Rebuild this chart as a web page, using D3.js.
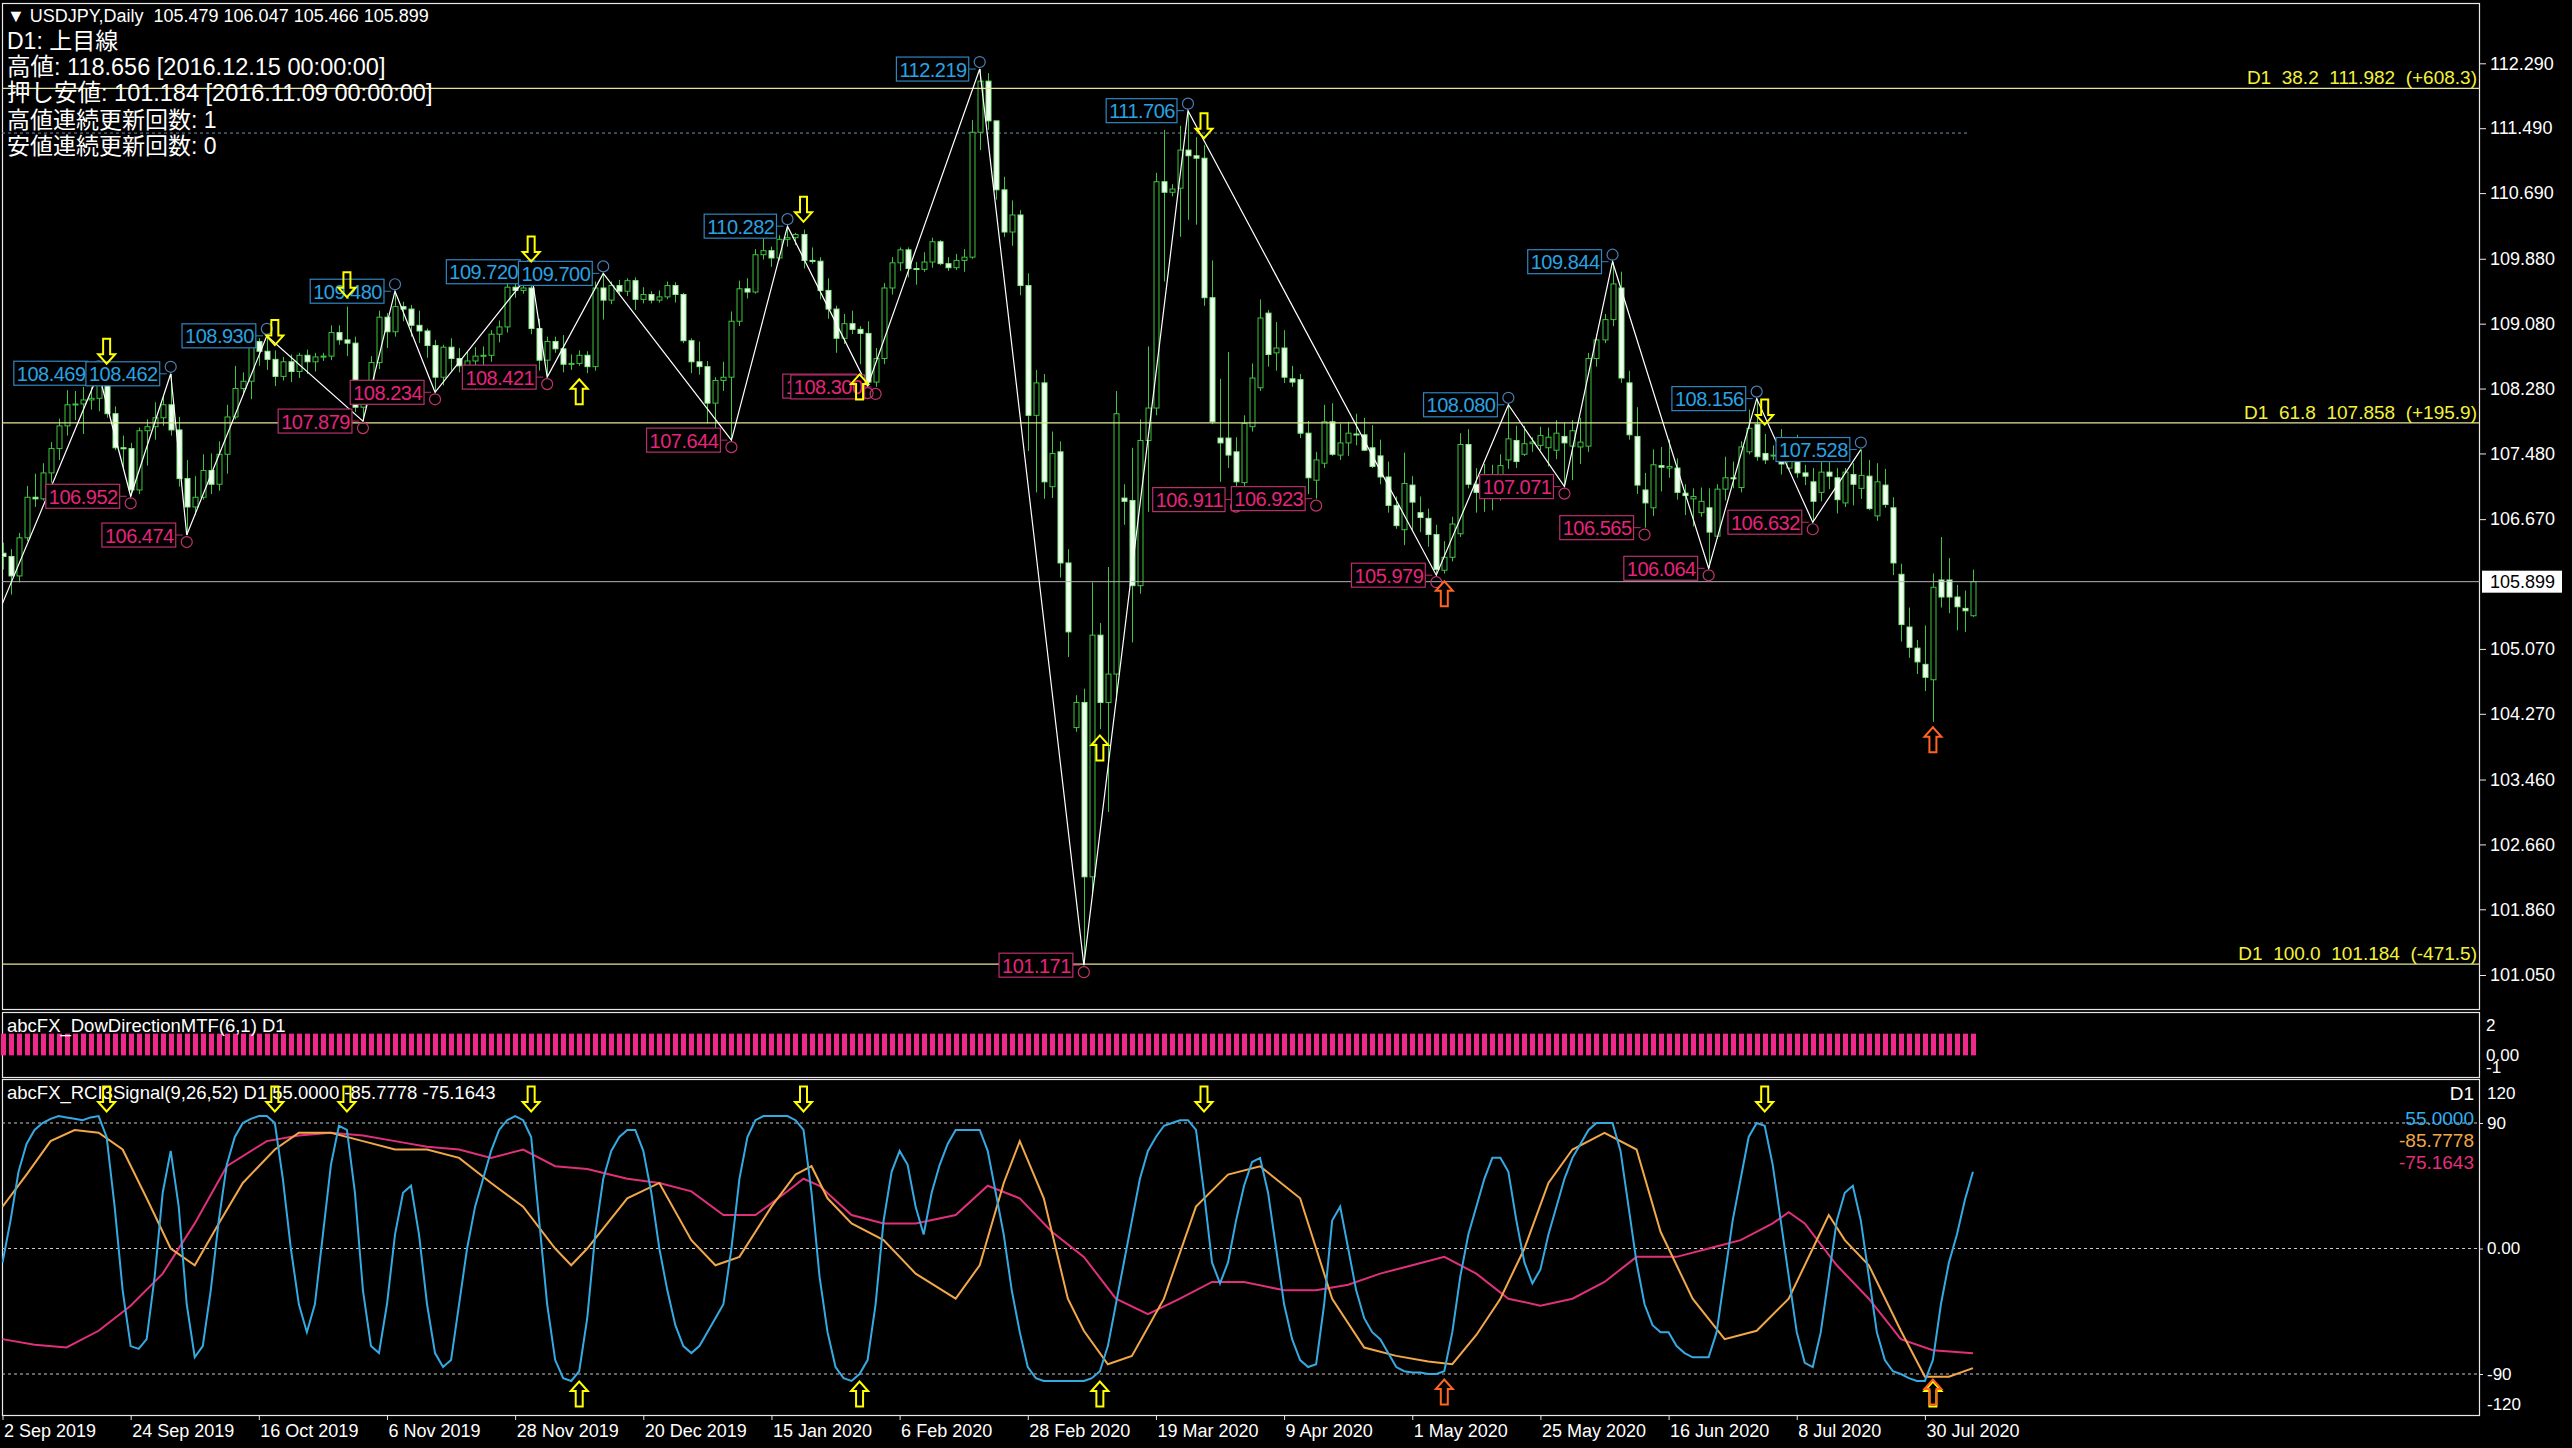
<!DOCTYPE html>
<html>
<head>
<meta charset="utf-8">
<script src="https://cdn.jsdelivr.net/npm/d3@7"></script>
<style>
  body { margin: 0; background: #000; }
  svg { display: block; }
</style>
</head>
<body>
<svg id="chart" width="2572" height="1448"></svg>
<script>
// ---- data ----
const open = [
  106.25,106.21,105.97,106.44,106.94,106.92,107.24,107.54,107.82,108.08,
  108.09,108.14,108.16,108.44,107.97,107.55,107.54,107.03,107.76,107.81,
  107.92,108.08,107.77,107.17,106.82,106.94,107.27,107.10,107.47,107.93,
  108.28,108.37,108.86,108.74,108.64,108.43,108.61,108.49,108.69,108.61,
  108.67,108.68,108.97,108.88,108.84,108.05,108.21,108.60,109.16,108.98,
  109.29,109.26,109.06,108.99,108.81,108.42,108.79,108.65,108.56,108.62,
  108.68,108.69,108.95,109.04,109.53,109.49,109.52,109.02,108.63,108.86,
  108.77,108.58,108.59,108.69,108.55,109.52,109.37,109.55,109.48,109.61,
  109.38,109.44,109.37,109.41,109.55,109.44,108.87,108.61,108.55,108.10,
  108.38,108.42,109.11,109.51,109.47,109.93,109.98,109.89,110.12,110.14,
  110.18,109.86,109.85,109.49,109.26,108.90,109.08,109.01,108.96,108.36,
  108.65,109.52,109.83,109.99,109.76,109.75,109.84,110.09,109.82,109.77,
  109.86,109.90,111.44,112.07,111.58,110.73,110.21,110.42,109.55,107.95,
  108.35,107.07,107.50,106.13,104.10,104.41,102.26,105.24,104.41,104.76,
  106.93,106.90,105.85,107.64,108.04,110.83,110.70,110.75,111.22,111.15,
  111.12,109.40,107.67,107.67,107.50,107.12,107.81,108.29,109.21,108.72,
  108.78,108.40,108.39,107.73,107.15,107.36,107.87,107.46,107.61,107.72,
  107.71,107.55,107.45,107.19,106.84,106.54,107.09,106.75,106.68,106.48,
  106.04,106.20,106.49,107.59,107.10,107.00,107.18,107.07,107.40,107.64,
  107.47,107.60,107.58,107.55,107.52,107.69,107.57,107.56,107.57,108.65,
  108.88,109.13,109.52,108.35,107.69,107.03,106.81,107.33,107.30,107.30,
  106.99,106.92,106.75,106.81,106.46,107.04,107.18,107.06,107.50,107.84,
  107.48,107.45,107.45,107.30,107.49,107.24,107.13,107.00,107.25,107.18,
  106.87,107.22,107.05,107.20,106.71,107.09,106.81,105.99,105.34,105.08,
  104.88,104.69,105.92,105.92,105.71,105.57,105.479
];
const high = [
  106.38,106.30,106.50,107.08,107.23,107.36,107.62,107.91,108.26,108.25,
  108.30,108.30,108.469,108.46,108.06,107.70,107.61,107.80,107.90,108.11,
  108.18,108.462,107.93,107.40,107.20,107.47,107.48,107.63,108.08,108.56,
  108.48,108.89,108.90,108.930,108.75,108.67,108.70,108.72,108.76,108.72,
  108.72,109.06,109.06,109.29,108.92,108.30,108.68,109.24,109.21,109.480,
  109.35,109.31,109.24,109.02,108.88,108.82,108.90,108.78,108.73,108.79,
  108.80,109.00,109.12,109.61,109.60,109.68,109.720,109.14,108.92,108.92,
  108.94,108.70,108.75,108.74,109.60,109.700,109.60,109.62,109.64,109.65,
  109.53,109.48,109.49,109.60,109.59,109.46,108.90,108.86,108.62,108.42,
  108.61,109.23,109.61,109.64,110.00,110.21,110.03,110.17,110.282,110.20,
  110.24,110.02,109.90,109.64,109.30,109.20,109.24,109.05,109.11,108.78,
  109.58,109.90,110.02,110.02,109.84,109.96,110.14,110.11,109.90,109.94,
  110.00,111.59,112.219,112.17,111.58,110.89,110.60,110.48,109.70,108.51,
  108.46,107.75,107.63,106.30,104.50,104.58,105.89,105.39,106.08,108.25,
  107.10,107.55,107.90,108.80,110.94,111.47,110.80,111.52,111.706,111.38,
  111.28,109.86,108.40,108.73,107.68,107.95,108.59,109.38,109.25,109.10,
  109.00,108.56,108.46,107.88,107.50,108.08,108.10,107.85,107.87,107.97,
  107.92,107.83,107.65,107.38,106.95,107.49,107.20,106.95,106.80,106.60,
  106.40,106.70,107.73,107.78,107.30,107.35,107.34,107.47,108.080,107.82,
  107.82,107.68,107.81,107.80,107.89,107.86,107.89,107.92,108.72,108.95,
  109.20,109.844,109.72,108.50,108.05,107.24,107.53,107.56,107.65,107.42,
  107.10,107.05,107.06,107.05,107.10,107.44,107.38,107.63,108.02,108.156,
  107.72,107.58,107.78,107.68,107.71,107.34,107.30,107.48,107.39,107.30,
  107.30,107.36,107.528,107.40,107.36,107.29,106.94,106.12,105.58,105.18,
  105.36,106.00,106.45,106.19,105.86,105.79,106.047
];
const low = [
  106.05,105.74,105.89,106.40,106.82,106.90,107.12,107.40,107.70,107.89,
  107.72,108.02,108.00,107.92,107.52,107.31,106.952,106.98,107.33,107.65,
  107.82,107.70,107.07,106.474,106.72,106.91,106.98,107.02,107.23,107.90,
  108.20,108.15,108.56,108.51,108.31,108.38,108.36,108.41,108.46,108.49,
  108.62,108.63,108.82,108.68,107.99,107.879,108.17,108.52,108.78,108.92,
  109.11,108.92,108.84,108.66,108.234,108.32,108.50,108.48,108.30,108.26,
  108.53,108.61,108.85,108.97,109.40,109.45,108.95,108.50,108.421,108.72,
  108.48,108.51,108.56,108.47,108.50,109.13,109.32,109.43,109.42,109.25,
  109.33,109.33,109.34,109.38,109.34,108.84,108.47,108.45,107.85,107.77,
  108.25,107.644,109.05,109.39,109.45,109.87,109.78,109.86,110.03,110.05,
  109.76,109.82,109.38,109.14,108.72,108.83,108.95,108.58,108.310,108.300,
  108.58,109.44,109.73,109.65,109.56,109.72,109.77,109.80,109.73,109.74,
  109.72,109.88,111.22,111.47,110.61,110.15,110.04,109.43,107.51,107.00,
  106.92,106.93,105.95,104.97,104.05,101.171,102.05,104.08,103.06,104.43,
  106.60,105.15,105.75,106.76,107.95,109.60,110.65,110.15,110.36,110.30,
  109.30,107.84,107.13,107.30,106.911,106.96,107.75,108.25,108.55,108.50,
  108.35,108.30,107.67,106.98,106.923,107.30,107.45,107.40,107.45,107.58,
  107.51,107.30,107.10,106.75,106.55,106.35,106.52,106.51,106.33,105.979,
  106.00,106.15,106.45,107.05,106.75,106.76,106.78,106.90,107.29,107.30,
  107.45,107.50,107.52,107.32,107.41,107.071,107.15,107.35,107.50,108.55,
  108.84,109.05,108.35,107.65,106.98,106.565,106.71,107.01,107.18,106.91,
  106.72,106.58,106.70,106.064,106.43,106.90,107.05,107.00,107.47,107.39,
  107.35,107.40,107.22,107.28,107.18,107.09,106.632,106.89,107.04,106.74,
  106.82,106.84,106.92,106.78,106.65,106.81,105.98,105.16,104.96,104.76,
  104.55,104.17,105.58,105.51,105.30,105.28,105.466
];
const close = [
  106.21,105.97,106.44,106.94,106.92,107.24,107.54,107.82,108.08,108.09,
  108.14,108.16,108.44,107.97,107.55,107.54,107.03,107.76,107.81,107.92,
  108.08,107.77,107.17,106.82,106.94,107.27,107.10,107.47,107.93,108.28,
  108.37,108.86,108.74,108.64,108.43,108.61,108.49,108.69,108.61,108.67,
  108.68,108.97,108.88,108.84,108.05,108.21,108.60,109.16,108.98,109.29,
  109.26,109.06,108.99,108.81,108.42,108.79,108.65,108.56,108.62,108.68,
  108.69,108.95,109.04,109.53,109.49,109.52,109.02,108.63,108.86,108.77,
  108.58,108.59,108.69,108.55,109.52,109.37,109.55,109.48,109.61,109.38,
  109.44,109.37,109.41,109.55,109.44,108.87,108.61,108.55,108.10,108.38,
  108.42,109.11,109.51,109.47,109.93,109.98,109.89,110.12,110.14,110.18,
  109.86,109.85,109.49,109.26,108.90,109.08,109.01,108.96,108.36,108.65,
  109.52,109.83,109.99,109.76,109.75,109.84,110.09,109.82,109.77,109.86,
  109.90,111.44,112.07,111.58,110.73,110.21,110.42,109.55,107.95,108.35,
  107.13,107.48,106.13,105.28,104.41,102.26,105.24,104.41,104.76,107.97,
  106.89,105.85,107.64,108.04,110.83,110.70,110.74,111.22,111.15,111.12,
  109.40,107.87,107.61,107.46,107.13,107.85,108.41,109.15,108.70,108.78,
  108.42,108.36,107.73,107.18,107.40,107.87,107.47,107.61,107.73,107.71,
  107.52,107.32,107.19,106.84,106.59,107.11,106.88,106.69,106.48,106.05,
  106.20,106.61,107.59,107.10,107.00,107.20,107.07,107.33,107.66,107.38,
  107.60,107.62,107.70,107.68,107.73,107.61,107.76,107.62,108.65,108.88,
  109.13,109.57,108.41,107.71,107.09,106.87,107.34,107.31,107.32,107.00,
  106.96,106.95,106.89,106.51,107.04,107.18,107.17,107.56,107.79,107.44,
  107.40,107.46,107.35,107.48,107.24,107.20,106.89,107.25,107.20,106.91,
  107.25,107.10,107.21,106.80,107.13,106.85,106.13,105.37,105.09,104.91,
  104.72,105.83,105.71,105.71,105.59,105.54,105.899
];

// swing points [bar, price]
const swingHighs = [[12,108.469],[21,108.462],[33,108.930],[49,109.480],[66,109.720],[75,109.700],
  [98,110.282],[122,112.219],[148,111.706],[188,108.080],[201,109.844],[219,108.156],[232,107.528]];
const swingLows = [[16,106.952],[23,106.474],[45,107.879],[54,108.234],[68,108.421],[91,107.644],
  [108,108.310],[109,108.300],[135,101.171],[154,106.911],[164,106.923],[179,105.979],[195,107.071],
  [205,106.565],[213,106.064],[226,106.632]];
const zigzag = [[-5,104.45],[12,108.469],[16,106.952],[21,108.462],[23,106.474],[33,108.930],[45,107.879],
  [49,109.480],[54,108.234],[66,109.720],[68,108.421],[75,109.700],[91,107.644],[98,110.282],[108,108.310],
  [122,112.219],[135,101.171],[148,111.706],[179,105.979],[188,108.080],[195,107.071],[201,109.844],
  [213,106.064],[219,108.156],[226,106.632],[232,107.528]];

// signal arrows on the price chart [bar, price at arrow centre]
const sellArrows = [[13,108.74],[34,108.97],[43,109.56],[66,110.00],[100,110.49],[150,111.52],[220,107.99]];
const buyArrows = [[72,108.24],[107,108.30],[137,103.85]];
const buyArrowsStrong = [[180,105.75],[241,103.95]];
const rciSellBars = [13,34,43,66,100,150,220];
const rciBuyBars = [72,107,137,241];
const rciBuyStrongBars = [180,241];

// fibo levels
const fibLevels = [38.2, 61.8, 100.0];
const fibPrices = [111.982, 107.858, 101.184];
const fibPips = ['+608.3', '+195.9', '-471.5'];
const dottedLevel = 111.43;
const lastPrice = 105.899;

const priceTicks = [112.290,111.490,110.690,109.880,109.080,108.280,107.480,106.670,
  105.070,104.270,103.460,102.660,101.860,101.050];
const dateTickBars = [0,16,32,48,64,80,96,112,128,144,160,176,192,208,224,240];
const dateTickLabels = ['2 Sep 2019','24 Sep 2019','16 Oct 2019','6 Nov 2019','28 Nov 2019',
  '20 Dec 2019','15 Jan 2020','6 Feb 2020','28 Feb 2020','19 Mar 2020','9 Apr 2020',
  '1 May 2020','25 May 2020','16 Jun 2020','8 Jul 2020','30 Jul 2020'];

// RCI(9) value per bar
const rciFast = [
  -10,20,55,75,85,90,93,95,94,93, 92,94,95,80,30,-30,-70,-72,-65,-20,
  40,70,30,-40,-78,-70,-30,20,60,80, 90,93,95,95,90,50,0,-40,-60,-40,
  10,60,88,85,40,-30,-70,-75,-40,10, 40,45,10,-40,-75,-85,-80,-40,0,30,
  50,70,85,92,95,92,80,20,-40,-80, -93,-95,-88,-50,10,50,70,80,85,85,
  70,40,0,-30,-55,-70,-75,-70,-60,-50, -40,0,50,80,92,95,95,95,95,92,
  85,40,-20,-60,-85,-93,-95,-90,-80,-40, 20,55,70,60,30,10,40,60,75,85,
  85,85,85,70,40,10,-30,-60,-85,-93, -95,-95,-95,-95,-95,-95,-93,-88,-70,-40,
  -10,20,50,70,80,88,90,92,92,85, 40,-10,-25,-10,20,45,62,65,40,0,
  -40,-65,-80,-85,-83,-40,20,30,0,-30, -50,-60,-65,-75,-85,-88,-89,-89,-90,-90,
  -88,-60,-20,10,30,50,65,65,55,20, -10,-25,-15,10,30,50,65,75,85,90,
  90,90,70,30,-10,-40,-55,-60,-60,-70, -75,-78,-78,-78,-60,-20,20,50,80,90,
  88,60,20,-20,-60,-82,-85,-60,-20,20, 40,45,20,-20,-60,-80,-88,-90,-93,-95,
  -95,-80,-40,-10,10,35,55
];
// RCI(26) and RCI(52) [bar, value]
const rciMid = [[0,30],[3,53],[6,77],[9,85],[12,83],[15,71],[18,36],[21,0],[24,-12],[27,18],[30,47],
  [34,71],[37,83],[41,83],[45,77],[49,71],[53,71],[57,65],[61,47],[65,30],[69,0],[71,-12],[73,0],
  [78,36],[82,47],[86,6],[89,-12],[92,-6],[96,30],[99,53],[101,59],[103,36],[106,18],[110,6],
  [114,-18],[119,-36],[122,-12],[125,47],[127,77],[130,36],[133,-36],[135,-59],[138,-83],[141,-77],
  [145,-36],[149,30],[153,53],[157,59],[162,36],[166,-36],[170,-71],[174,-77],[178,-81],[181,-83],
  [184,-62],[187,-36],[190,0],[193,47],[196,71],[200,83],[204,71],[207,12],[211,-36],[215,-65],
  [219,-59],[223,-36],[226,0],[228,24],[230,6],[233,-12],[237,-59],[240,-92],[243,-92],[246,-85.78]];
const rciSlow = [[0,-65],[4,-69],[8,-71],[12,-59],[16,-41],[20,-18],[24,18],[28,59],[33,77],[37,81],
  [41,83],[45,81],[49,77],[53,73],[57,71],[61,65],[65,71],[69,59],[73,57],[78,50],[82,47],[86,41],
  [90,24],[94,24],[98,41],[100,50],[102,45],[106,24],[110,18],[114,18],[119,24],[123,45],[127,36],
  [131,12],[135,-6],[139,-36],[143,-47],[147,-36],[151,-24],[155,-24],[160,-30],[164,-30],[168,-26],
  [172,-18],[176,-12],[180,-6],[184,-18],[188,-36],[192,-41],[196,-36],[200,-24],[204,-6],[209,-6],
  [213,0],[217,6],[221,18],[223,26],[225,18],[229,-12],[233,-36],[237,-65],[241,-73],[246,-75.16]];
const dowRuns = [[0, 246, 1]]; // every bar of the MTF direction is +1

// ---- layout ----
const W = 2572, H = 1448;
const LEFT = 2, RIGHT = 2480;
const main = { top: 3, bottom: 1009 };
const dow = { top: 1012, bottom: 1077 };
const rci = { top: 1079, bottom: 1415 };
const FONT = "'Liberation Sans', Arial, 'Noto Sans CJK JP', sans-serif";

const x = d3.scaleLinear().domain([0, 240]).range([2.5, 1924.9]);
const y = d3.scaleLinear().domain([112.29, 101.05]).range([63.3, 975]);
const yDow = d3.scaleLinear().domain([2, -1]).range([dow.top, dow.bottom]);
const yRci = d3.scaleLinear().domain([90, -90]).range([1123, 1374]);

const svg = d3.select('#chart').attr('font-family', FONT);
svg.append('rect').attr('width', W).attr('height', H).attr('fill', '#000');

const defs = svg.append('defs');
defs.append('clipPath').attr('id', 'clipMain').append('rect')
  .attr('x', LEFT).attr('y', main.top).attr('width', RIGHT - LEFT).attr('height', main.bottom - main.top);
defs.append('clipPath').attr('id', 'clipRci').append('rect')
  .attr('x', LEFT).attr('y', rci.top).attr('width', RIGHT - LEFT).attr('height', rci.bottom - rci.top);

// panel frames
[main, dow, rci].forEach(p => {
  svg.append('rect').attr('x', LEFT + 0.5).attr('y', p.top + 0.5)
    .attr('width', RIGHT - LEFT - 1).attr('height', p.bottom - p.top)
    .attr('fill', 'none').attr('stroke', '#e8e8e8').attr('stroke-width', 1.2);
});

// ---- main price panel ----
const gMain = svg.append('g').attr('clip-path', 'url(#clipMain)');

// dotted level
gMain.append('line')
  .attr('x1', LEFT).attr('x2', x(245.5)).attr('y1', y(dottedLevel)).attr('y2', y(dottedLevel))
  .attr('stroke', '#6f8faf').attr('stroke-dasharray', '3,3');

// candles
const bars = d3.range(open.length);
const candle = gMain.append('g').selectAll('g').data(bars).join('g');
candle.append('line')
  .attr('x1', i => Math.round(x(i)) + 0.5).attr('x2', i => Math.round(x(i)) + 0.5)
  .attr('y1', i => y(high[i])).attr('y2', i => y(low[i]))
  .attr('stroke', '#3ec43e').attr('stroke-width', 1);
candle.append('rect')
  .attr('x', i => Math.round(x(i)) - 2)
  .attr('width', 5)
  .attr('y', i => y(Math.max(open[i], close[i])))
  .attr('height', i => Math.max(1, Math.abs(y(open[i]) - y(close[i]))))
  .attr('fill', i => close[i] >= open[i] ? '#000' : '#f0fff0')
  .attr('stroke', i => close[i] >= open[i] ? '#3ec43e' : '#8af08a')
  .attr('stroke-width', 1);

// fibo lines
fibPrices.forEach((p, k) => {
  gMain.append('line').attr('x1', LEFT).attr('x2', RIGHT).attr('y1', y(p)).attr('y2', y(p))
    .attr('stroke', '#e4e49a').attr('stroke-width', 1.2);
  gMain.append('text').attr('x', RIGHT - 3).attr('y', y(p) - 4)
    .attr('text-anchor', 'end').attr('font-size', 19).attr('fill', '#f2f23c')
    .style('white-space', 'pre')
    .text(`D1  ${fibLevels[k].toFixed(1)}  ${p.toFixed(3)}  (${fibPips[k]})`);
});

// last price line
gMain.append('line').attr('x1', LEFT).attr('x2', RIGHT).attr('y1', y(lastPrice)).attr('y2', y(lastPrice))
  .attr('stroke', '#b4b4b4').attr('stroke-width', 1);

// zigzag
gMain.append('path').datum(zigzag)
  .attr('d', d3.line().x(d => x(d[0])).y(d => y(d[1])))
  .attr('fill', 'none').attr('stroke', '#fff').attr('stroke-width', 1.2);

// swing labels
function swingLabel(d, isHigh) {
  const cx = x(d[0]), py = y(d[1]);
  const col = isHigh ? '#29a3e3' : '#e6247c';
  const edge = isHigh ? '#2f86c0' : '#b8306e';
  const g = gMain.append('g');
  const t = g.append('text').attr('font-size', 20).attr('letter-spacing', -0.5).attr('fill', col)
    .attr('text-anchor', 'end').attr('x', cx - 13).attr('y', py + 7.5).text(d[1].toFixed(3));
  const w = t.node().getComputedTextLength();
  g.insert('rect', 'text').attr('x', cx - 13 - w - 3).attr('y', py - 12)
    .attr('width', w + 5).attr('height', 24).attr('fill', '#000')
    .attr('stroke', edge).attr('stroke-width', 1.2);
  g.append('line').attr('x1', cx - 11).attr('x2', cx - 4).attr('y1', py).attr('y2', py)
    .attr('stroke', edge);
  g.append('circle').attr('cx', cx).attr('cy', isHigh ? py - 7 : py + 7).attr('r', 5.5)
    .attr('fill', 'none').attr('stroke', isHigh ? '#4a7fb5' : '#c2356f').attr('stroke-width', 1.2);
}
swingHighs.forEach(d => swingLabel(d, true));
swingLows.forEach(d => swingLabel(d, false));

// arrows
function arrowPath(cx, cy, down) {
  const s = down ? 1 : -1, h = 12.5;
  const pts = [[-3.5, -h], [3.5, -h], [3.5, 3], [8.5, 3], [0, h], [-8.5, 3], [-3.5, 3]];
  return 'M' + pts.map(p => [cx + p[0], cy + s * p[1]].join(',')).join('L') + 'Z';
}
function drawArrows(g, list, down, color) {
  g.selectAll(null).data(list).join('path')
    .attr('d', d => arrowPath(x(d[0]), d[1], down))
    .attr('fill', 'none').attr('stroke', color).attr('stroke-width', 2);
}
drawArrows(gMain, sellArrows.map(d => [d[0], y(d[1])]), true, '#ffff00');
drawArrows(gMain, buyArrows.map(d => [d[0], y(d[1])]), false, '#ffff00');
drawArrows(gMain, buyArrowsStrong.map(d => [d[0], y(d[1])]), false, '#ff6420');

// price axis
const yAxis = d3.axisRight(y).tickValues(priceTicks).tickFormat(d3.format('.3f')).tickSize(6).tickPadding(4);
svg.append('g').attr('transform', `translate(${RIGHT},0)`).call(yAxis)
  .attr('font-size', 18).attr('font-family', FONT)
  .call(g => g.select('.domain').remove())
  .call(g => g.selectAll('line').attr('stroke', '#e8e8e8'))
  .call(g => g.selectAll('text').attr('fill', '#fff'));
svg.append('rect').attr('x', RIGHT + 2).attr('y', y(lastPrice) - 11).attr('width', 80).attr('height', 22)
  .attr('fill', '#fff');
svg.append('text').attr('x', RIGHT + 10).attr('y', y(lastPrice) + 6.5).attr('font-size', 18)
  .attr('fill', '#000').text(lastPrice.toFixed(3));

// header text
const header = [
  { t: '\u25BC USDJPY,Daily  105.479 106.047 105.466 105.899', s: 18, y: 16 },
  { t: 'D1: 上目線', s: 23, y: 41 },
  { t: '高値: 118.656 [2016.12.15 00:00:00]', s: 23.5, y: 67 },
  { t: '押し安値: 101.184 [2016.11.09 00:00:00]', s: 23.5, y: 93 },
  { t: '高値連続更新回数: 1', s: 23, y: 120 },
  { t: '安値連続更新回数: 0', s: 23, y: 146 }
];
svg.append('g').selectAll('text').data(header).join('text')
  .attr('x', 7).attr('y', d => d.y).attr('dy', '0.35em')
  .attr('font-size', d => d.s).attr('fill', '#fff').style('white-space', 'pre')
  .text(d => d.t);

// ---- Dow direction panel ----
const gDow = svg.append('g');
dowRuns.forEach(r => {
  gDow.append('g').selectAll('rect').data(d3.range(r[0], r[1] + 1)).join('rect')
    .attr('x', i => Math.round(x(i)) - 2).attr('width', 5)
    .attr('y', yDow(r[2])).attr('height', yDow(0) - yDow(r[2]))
    .attr('fill', '#f0288c');
});
gDow.append('text').attr('x', 7).attr('y', 1026).attr('dy', '0.35em').attr('font-size', 18.5)
  .attr('fill', '#fff').text('abcFX_DowDirectionMTF(6,1) D1');
[[2, yDow(2) + 13], [0, yDow(0)], [-1, yDow(-1) - 10]].forEach(d => {
  svg.append('text').attr('x', RIGHT + 6).attr('y', d[1]).attr('dy', '0.35em').attr('font-size', 17)
    .attr('fill', '#fff').text(d[0] === 0 ? '0.00' : String(d[0]));
});

// ---- RCI panel ----
const gRci = svg.append('g').attr('clip-path', 'url(#clipRci)');
[90, 0, -90].forEach(v => {
  gRci.append('line').attr('x1', LEFT).attr('x2', RIGHT).attr('y1', yRci(v)).attr('y2', yRci(v))
    .attr('stroke', '#c8c8c8').attr('stroke-dasharray', '3,3');
});
const rciLine = d3.line().x(d => x(d[0])).y(d => yRci(d[1]));
const fastPts = rciFast.map((v, i) => [i, v]);
[[rciSlow, '#e0307c'], [rciMid, '#f2a848'], [fastPts, '#35a9e2']].forEach(s => {
  gRci.append('path').datum(s[0]).attr('d', rciLine)
    .attr('fill', 'none').attr('stroke', s[1]).attr('stroke-width', 2);
});
gRci.append('text').attr('x', 7).attr('y', 1093).attr('dy', '0.35em').attr('font-size', 18.5)
  .attr('fill', '#fff').text('abcFX_RCI3Signal(9,26,52) D1 55.0000 -85.7778 -75.1643');
drawArrows(gRci, rciSellBars.map(b => [b, 1099]), true, '#ffff00');
drawArrows(gRci, rciBuyBars.map(b => [b, 1394]), false, '#ffff00');
drawArrows(gRci, rciBuyStrongBars.map(b => [b, 1392]), false, '#ff6420');

const rciVals = [['D1', '#fff', 1093], ['55.0000', '#2fb0f0', 1118], ['-85.7778', '#f2a848', 1140], ['-75.1643', '#e0307c', 1162]];
svg.append('g').selectAll('text').data(rciVals).join('text')
  .attr('x', RIGHT - 6).attr('y', d => d[2]).attr('dy', '0.35em').attr('text-anchor', 'end')
  .attr('font-size', 19).attr('fill', d => d[1]).text(d => d[0]);

const rciAxis = d3.axisRight(yRci).tickValues([90, 0, -90])
  .tickFormat(v => v === 0 ? '0.00' : String(v)).tickSize(3).tickPadding(4);
svg.append('g').attr('transform', `translate(${RIGHT},0)`).call(rciAxis)
  .attr('font-size', 17).attr('font-family', FONT)
  .call(g => g.select('.domain').remove())
  .call(g => g.selectAll('line').attr('stroke', '#e8e8e8'))
  .call(g => g.selectAll('text').attr('fill', '#fff'));
[120, -120].forEach(v => {
  svg.append('text').attr('x', RIGHT + 7).attr('y', yRci(v) + (v > 0 ? 12 : -12))
    .attr('dy', '0.35em').attr('font-size', 17).attr('fill', '#fff').text(String(v));
});

// ---- time axis ----
const xAxis = d3.axisBottom(x).tickValues(dateTickBars)
  .tickFormat((d, i) => dateTickLabels[i]).tickSize(5).tickPadding(4);
svg.append('g').attr('transform', `translate(0,${rci.bottom})`).call(xAxis)
  .attr('font-size', 18).attr('font-family', FONT)
  .call(g => g.select('.domain').remove())
  .call(g => g.selectAll('line').attr('stroke', '#e8e8e8'))
  .call(g => g.selectAll('text').attr('fill', '#fff').attr('text-anchor', 'start').attr('x', 1));
</script>
</body>
</html>
